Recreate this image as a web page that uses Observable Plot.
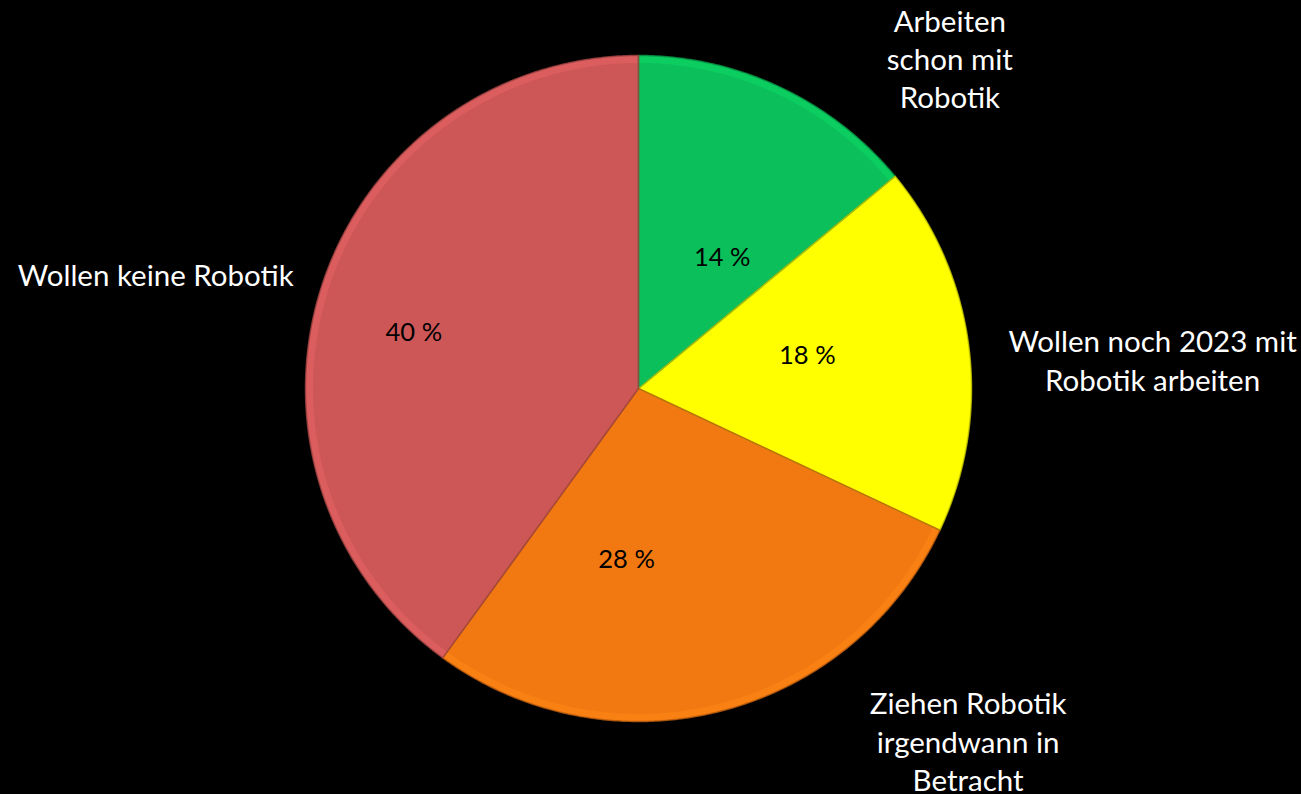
<!DOCTYPE html>
<html>
<head>
<meta charset="utf-8">
<script src="https://cdn.jsdelivr.net/npm/d3@7"></script>
<script src="https://cdn.jsdelivr.net/npm/@observablehq/plot@0.6"></script>
<style>
  html, body { margin: 0; padding: 0; background: #000; }
  #chart svg { display: block; background: #000; }
</style>
</head>
<body>
<div id="chart"></div>
<script>
// ---- data ----
const categories = [
  "Arbeiten schon mit Robotik",
  "Wollen noch 2023 mit Robotik arbeiten",
  "Ziehen Robotik irgendwann in Betracht",
  "Wollen keine Robotik"
];
const values = [14, 18, 28, 40];
const labelTexts = [
  "Arbeiten\nschon mit\nRobotik",
  "Wollen noch 2023 mit\nRobotik arbeiten",
  "Ziehen Robotik\nirgendwann in\nBetracht",
  "Wollen keine Robotik"
];
const percentTexts = values.map(v => v + " %");
const colors = ["#0bbf5a", "#ffff00", "#f27912", "#cd5757"];

// ---- layout / style ----
const W = 1301, H = 794;
const cx = 638, cy = 388, R = 333;
const font = "Lato, 'Open Sans', sans-serif";
const outerNudge = [[110, 97], [45, 30], [212, -106], [-33, 31]];
const innerNudge = [[10, 26], [-3, -11], [-55, 4], [-60, -2]];

// ---- geometry derived from values (unit circle, clockwise from top) ----
const total = d3.sum(values);
let acc = 0;
const slices = values.map((v, i) => {
  const a0 = acc / total * 2 * Math.PI;
  acc += v;
  const a1 = acc / total * 2 * Math.PI;
  return {key: categories[i], value: v, a0, a1, mid: (a0 + a1) / 2, i};
});
const pt = (a, r) => ({x: r * Math.sin(a), y: r * Math.cos(a)});
const step = Math.PI / 360;

const polyPts = [];
const rimPts = [];
for (const s of slices) {
  polyPts.push({key: s.key, ...pt(0, 0)});
  const n = Math.max(2, Math.ceil((s.a1 - s.a0) / step));
  for (let k = 0; k <= n; k++) {
    const a = s.a0 + (s.a1 - s.a0) * k / n;
    polyPts.push({key: s.key, ...pt(a, 1)});
    rimPts.push({key: s.key, ...pt(a, 1 - 4 / R)});
  }
  polyPts.push({key: s.key, ...pt(0, 0)});
}

const darker = colors.map(c => d3.color(c).darker(0.7).formatHex());
const lighter = colors.map(c => d3.color(c).brighter(0.35).formatHex());

const marks = [
  Plot.line(polyPts, {x: "x", y: "y", z: "key", fill: "key", stroke: "none", curve: "linear"}),
  Plot.line(rimPts, {x: "x", y: "y", z: "key", stroke: d => lighter[categories.indexOf(d.key)], strokeWidth: 7, strokeOpacity: 0.55, strokeLinecap: "butt"}),
  Plot.line(polyPts, {x: "x", y: "y", z: "key", stroke: d => darker[categories.indexOf(d.key)], strokeWidth: 1.5, strokeOpacity: 0.8, fill: "none"})
];

slices.forEach((s, i) => {
  const outer = pt(s.mid, 1.42);
  marks.push(Plot.text([s], {
    x: () => outer.x, y: () => outer.y, text: () => labelTexts[i],
    dx: outerNudge[i][0], dy: outerNudge[i][1],
    fill: "#fff", fontSize: 29.5, fontFamily: font, lineHeight: 1.3,
    textAnchor: "middle", lineAnchor: "middle"
  }));
  const inner = pt(s.mid, 0.52);
  marks.push(Plot.text([s], {
    x: () => inner.x, y: () => inner.y, text: () => percentTexts[i],
    dx: innerNudge[i][0], dy: innerNudge[i][1],
    fill: "#000", fontSize: 25.5, fontFamily: font,
    textAnchor: "middle", lineAnchor: "middle"
  }));
});

const chart = Plot.plot({
  width: W, height: H,
  margin: 0,
  style: {background: "#000"},
  x: {domain: [-cx / R, (W - cx) / R], range: [0, W], axis: null},
  y: {domain: [-(H - cy) / R, cy / R], range: [H, 0], axis: null},
  color: {domain: categories, range: colors},
  marks
});
document.getElementById("chart").appendChild(chart);
</script>
</body>
</html>
